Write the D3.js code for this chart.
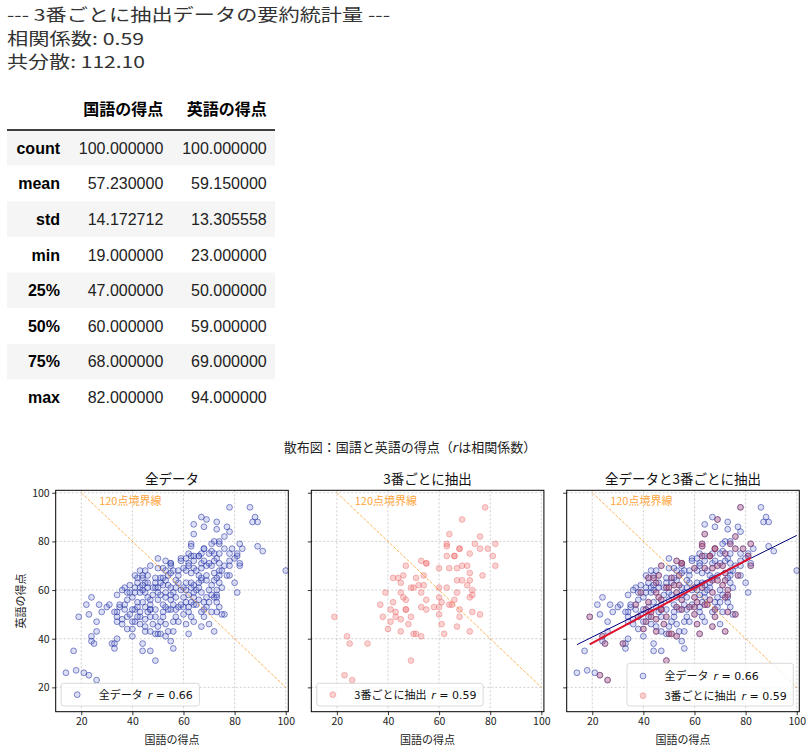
<!DOCTYPE html>
<html>
<head>
  <meta charset="utf-8" />
  <script src="https://d3js.org/d3.v7.min.js"></script>
  <style>
    body {
      margin: 0;
      background: #fff;
    }
    svg {
      display: block;
      font-family: "Noto Sans CJK JP", sans-serif;
    }
    .tbl {
      font-family: "Liberation Sans", "Noto Sans CJK JP", sans-serif;
      font-size: 16px;
    }
    .math {
      font-family: "DejaVu Sans", sans-serif;
    }
    .pre {
      white-space: pre;
    }
  </style>
</head>
<body>
  <script>
    // every third row
    var sampleKokugo = [78, 69, 64, 76, 63, 63, 68, 74, 76, 79, 82, 72, 66, 63, 81, 82, 53, 55, 47, 60,
      64, 67, 69, 71, 72, 77, 67, 69, 72, 71, 73, 73, 72, 67, 63, 60, 60, 64, 65, 66,
      68, 68, 67, 72, 73, 76, 60, 61, 62, 58, 55, 53, 55, 53, 52, 54, 51, 54, 50, 49,
      47, 45, 46, 47, 45, 46, 44, 42, 39, 37, 41, 42, 43, 43, 41, 38, 40, 45, 48, 49,
      45, 50, 51, 53, 49, 32, 25, 24, 19, 23, 26, 60, 61, 55, 68, 66, 47];
    var sampleEigo = [94, 89, 83, 82, 79, 78, 77, 79, 77, 77, 79, 75, 74, 74, 74, 70, 72, 71, 70, 69,
      69, 69, 70, 70, 67, 66, 64, 64, 64, 62, 60, 58, 57, 59, 61, 61, 57, 54, 54, 56,
      52, 49, 45, 43, 51, 50, 50, 46, 42, 53, 52, 53, 56, 59, 62, 62, 65, 66, 61, 61,
      56, 59, 57, 52, 63, 66, 65, 65, 59, 54, 52, 55, 51, 49, 47, 49, 44, 48, 46, 49,
      43, 42, 42, 41, 31, 38, 38, 41, 49, 25, 23, 53, 55, 71, 77, 74, 52];

    // the remaining rows
    var otherKokugo = [86, 88, 87, 89, 67, 73, 64, 68, 77, 78, 73, 72, 71, 74, 83, 89, 91, 81, 80, 78,
      78, 74, 73, 71, 70, 67, 62, 64, 61, 64, 62, 70, 67, 68, 72, 74, 76, 78, 78, 80,
      81, 100, 82, 50, 55, 45, 43, 41, 50, 52, 53, 55, 56, 59, 59, 61, 62, 63, 65, 66,
      67, 58, 58, 69, 66, 64, 63, 61, 74, 75, 74, 73, 74, 75, 73, 73, 70, 69, 68, 69,
      67, 64, 63, 62, 62, 64, 59, 57, 56, 55, 53, 52, 51, 49, 49, 48, 46, 44, 43, 43,
      41, 40, 38, 35, 34, 41, 35, 34, 34, 34, 36, 36, 38, 40, 40, 42, 44, 45, 46, 47,
      50, 47, 45, 50, 52, 54, 56, 57, 59, 52, 53, 54, 49, 56, 57, 56, 55, 56, 44, 47,
      33, 33, 34, 30, 28, 27, 24, 22, 23, 26, 26, 24, 17, 14, 18, 21, 37, 36, 38, 39,
      42, 44, 51, 53, 57, 58, 48, 50, 55, 57, 46, 44, 61, 62, 65, 66, 64, 70, 71, 70,
      74, 71, 63, 58, 52, 49, 47, 42, 39, 37, 40, 43, 51, 75, 44, 31, 33];
    var otherEigo = [94, 90, 88, 88, 90, 88, 87, 86, 86, 84, 85, 80, 79, 80, 77, 78, 76, 75, 73, 75,
      72, 75, 73, 76, 75, 75, 75, 74, 73, 72, 71, 71, 71, 72, 72, 71, 70, 70, 66, 63,
      59, 68, 71, 73, 70, 68, 68, 66, 69, 69, 68, 67, 68, 73, 72, 68, 70, 67, 68, 66,
      65, 68, 66, 66, 63, 62, 63, 63, 68, 68, 66, 65, 63, 61, 57, 55, 46, 57, 55, 53,
      51, 57, 55, 53, 51, 47, 60, 61, 59, 61, 64, 65, 63, 63, 65, 61, 61, 60, 59, 61,
      59, 57, 56, 53, 58, 61, 54, 51, 49, 47, 48, 46, 44, 41, 52, 53, 55, 53, 51, 49,
      45, 43, 45, 56, 54, 52, 54, 52, 54, 49, 46, 43, 42, 47, 49, 43, 39, 36, 35, 35,
      38, 36, 40, 53, 51, 54, 57, 54, 50, 47, 43, 39, 35, 26, 27, 26, 61, 60, 59, 62,
      63, 66, 58, 57, 57, 63, 58, 59, 58, 64, 63, 62, 60, 58, 60, 61, 59, 60, 58, 55,
      53, 51, 49, 47, 51, 52, 54, 49, 50, 52, 47, 46, 47, 50, 38, 54, 51];

    var allKokugo = sampleKokugo.concat(otherKokugo);
    var allEigo = sampleEigo.concat(otherEigo);

    var summaryLines = ["--- 3番ごとに抽出データの要約統計量 ---", "相関係数: 0.59", "共分散: 112.10"];
    var tableColumns = ["国語の得点", "英語の得点"];
    var statNames = ["count", "mean", "std", "min", "25%", "50%", "75%", "max"];
    var statKokugo = ["100.000000", "57.230000", "14.172712", "19.000000", "47.000000", "60.000000", "68.000000", "82.000000"];
    var statEigo = ["100.000000", "59.150000", "13.305558", "23.000000", "50.000000", "59.000000", "69.000000", "94.000000"];

    var suptitle = ["散布図：国語と英語の得点（", "r", "は相関係数）"];
    var panelTitles = ["全データ", "3番ごとに抽出", "全データと3番ごとに抽出"];
    var legendAll = ["全データ", "0.66"];
    var legendSample = ["3番ごとに抽出", "0.59"];
    var axisTicks = [20, 40, 60, 80, 100];
    var boundaryTotal = 120;
    var boundaryLabel = "120点境界線";
    var xLabel = "国語の得点";
    var yLabel = "英語の得点";

    var svg = d3.select("body")
      .append("svg")
      .attr("width", 810)
      .attr("height", 751);

    // ---- printed output ----
    var lineLengths = [383, 137, 138];
    svg.selectAll()
      .data(summaryLines)
      .enter()
      .append("text")
      .attr("x", 7)
      .attr("y", function(d, i) { return 15 + i * 23.7; })
      .attr("dy", "0.36em")
      .attr("textLength", function(d, i) { return lineLengths[i]; })
      .attr("lengthAdjust", "spacingAndGlyphs")
      .style("font-size", "16.5px")
      .style("fill", "#333")
      .text(function(d) { return d; });

    // ---- describe() table ----
    var rowH = 35.65, tableTop = 130;
    var table = svg.append("g").attr("class", "tbl");
    table.selectAll()
      .data(statNames)
      .enter()
      .append("rect")
      .attr("x", 7)
      .attr("y", function(d, i) { return tableTop + i * rowH; })
      .attr("width", 268)
      .attr("height", rowH)
      .attr("fill", function(d, i) { return i % 2 == 0 ? "#f5f5f5" : "#fff"; });
    table.append("line")
      .attr("x1", 7).attr("x2", 275)
      .attr("y1", tableTop).attr("y2", tableTop)
      .attr("stroke", "#000")
      .attr("stroke-width", 1.3);
    var colRight = [163.3, 266.7];
    table.selectAll()
      .data(tableColumns)
      .enter()
      .append("text")
      .attr("x", function(d, i) { return colRight[i]; })
      .attr("y", 109.5)
      .attr("dy", "0.36em")
      .attr("text-anchor", "end")
      .style("font-family", "'Noto Sans CJK JP', sans-serif")
      .style("font-weight", "bold")
      .text(function(d) { return d; });
    var rows = table.selectAll()
      .data(statNames)
      .enter()
      .append("g")
      .attr("transform", function(d, i) { return `translate(0 ${tableTop + i * rowH + rowH / 2})`; });
    rows.append("text")
      .attr("x", 60)
      .attr("dy", "0.36em")
      .attr("text-anchor", "end")
      .style("font-weight", "bold")
      .text(function(d) { return d; });
    rows.append("text")
      .attr("x", colRight[0])
      .attr("dy", "0.36em")
      .attr("text-anchor", "end")
      .style("fill", "#222")
      .text(function(d, i) { return statKokugo[i]; });
    rows.append("text")
      .attr("x", colRight[1])
      .attr("dy", "0.36em")
      .attr("text-anchor", "end")
      .style("fill", "#222")
      .text(function(d, i) { return statEigo[i]; });

    // ---- scatter figure ----
    var st = svg.append("text")
      .attr("x", 410)
      .attr("y", 447)
      .attr("dy", "0.36em")
      .attr("text-anchor", "middle")
      .style("font-size", "13px")
      .style("fill", "#222");
    st.append("tspan").text(suptitle[0]);
    st.append("tspan").attr("class", "math").style("font-style", "italic").text(suptitle[1]);
    st.append("tspan").text(suptitle[2]);

    var panelLeft = [55.7, 311.3, 566.7];
    var panelTop = 490.3, panelW = 232.6, panelH = 221.4;
    var x = d3.scaleLinear().domain([10, 101]).range([0, panelW]);
    var y = d3.scaleLinear().domain([10, 101]).range([panelH, 0]);

    var blueStyle = ["rgba(110,125,215,0.25)", "rgba(35,50,160,0.55)"];
    var redStyle = ["rgba(240,115,115,0.33)", "rgba(235,100,100,0.4)"];
    var redOverStyle = ["rgba(200,90,110,0.3)", "rgba(160,50,80,0.4)"];

    function fit(xs, ys) {
      var mx = d3.mean(xs), my = d3.mean(ys);
      var sxy = d3.sum(xs, function(v, i) { return (v - mx) * (ys[i] - my); });
      var sxx = d3.sum(xs, function(v) { return (v - mx) * (v - mx); });
      var b = sxy / sxx;
      var x0 = d3.min(xs), x1 = d3.max(xs);
      return [[x0, my + b * (x0 - mx)], [x1, my + b * (x1 - mx)]];
    }

    function drawPoints(g, xs, ys, style) {
      g.selectAll()
        .data(xs)
        .enter()
        .append("circle")
        .attr("cx", function(d) { return x(d); })
        .attr("cy", function(d, i) { return y(ys[i]); })
        .attr("r", 2.9)
        .attr("fill", style[0])
        .attr("stroke", style[1])
        .attr("stroke-width", 1);
    }

    function legendText(t, label, r) {
      t.append("tspan").text(label + "  ");
      t.append("tspan").attr("class", "math").style("font-style", "italic").text("r");
      t.append("tspan").attr("class", "math").text(" = " + r);
    }

    var line = d3.line()
      .x(function(d) { return x(d[0]); })
      .y(function(d) { return y(d[1]); });

    panelLeft.forEach(function(left, p) {
      var g = svg.append("g").attr("transform", `translate(${left} ${panelTop})`);

      g.append("clipPath").attr("id", "clip" + p)
        .append("rect").attr("width", panelW).attr("height", panelH);

      // grid
      g.selectAll()
        .data(axisTicks)
        .enter()
        .append("line")
        .attr("x1", function(d) { return x(d); })
        .attr("x2", function(d) { return x(d); })
        .attr("y1", 0).attr("y2", panelH)
        .attr("stroke", "#b0b0b0").attr("stroke-width", 0.6).attr("stroke-dasharray", "2,2");
      g.selectAll()
        .data(axisTicks)
        .enter()
        .append("line")
        .attr("y1", function(d) { return y(d); })
        .attr("y2", function(d) { return y(d); })
        .attr("x1", 0).attr("x2", panelW)
        .attr("stroke", "#b0b0b0").attr("stroke-width", 0.6).attr("stroke-dasharray", "2,2");

      var plot = g.append("g").attr("clip-path", `url(#clip${p})`);
      if (p != 1) drawPoints(plot, allKokugo, allEigo, blueStyle);
      if (p == 1) drawPoints(plot, sampleKokugo, sampleEigo, redStyle);
      if (p == 2) drawPoints(plot, sampleKokugo, sampleEigo, redOverStyle);

      // x + y = 120 boundary
      plot.append("path")
        .attr("d", line([[boundaryTotal - 100, 100], [100, boundaryTotal - 100]]))
        .attr("fill", "none")
        .attr("stroke", "darkorange")
        .attr("stroke-opacity", 0.75)
        .attr("stroke-width", 0.9)
        .attr("stroke-dasharray", "3,1.6");
      plot.append("text")
        .attr("x", x(27))
        .attr("y", y(96.5))
        .attr("dy", "0.36em")
        .style("font-size", "11px")
        .style("fill", "darkorange")
        .style("fill-opacity", 0.8)
        .text(boundaryLabel);

      if (p == 2) {
        plot.append("path")
          .attr("d", line(fit(allKokugo, allEigo)))
          .attr("fill", "none")
          .attr("stroke", "navy")
          .attr("stroke-width", 1);
        plot.append("path")
          .attr("d", line(fit(sampleKokugo, sampleEigo)))
          .attr("fill", "none")
          .attr("stroke", "#e0102a")
          .attr("stroke-width", 2);
      }

      // axes
      var xAxis = g.append("g")
        .attr("transform", `translate(0 ${panelH})`)
        .call(d3.axisBottom(x).tickValues(axisTicks).tickSize(3.5).tickPadding(2.5));
      var yAxis = g.append("g")
        .call(d3.axisLeft(y).tickValues(axisTicks).tickSize(3.5).tickPadding(2.5));
      [xAxis, yAxis].forEach(function(a) {
        a.select(".domain").remove();
        a.selectAll("line").attr("stroke", "#000").attr("stroke-width", 0.8);
        a.selectAll("text")
          .style("font-family", "'Noto Sans CJK JP', sans-serif")
          .style("font-size", "10.5px")
          .attr("fill", "#222");
      });
      if (p > 0) yAxis.selectAll("text").remove();

      g.append("rect")
        .attr("width", panelW)
        .attr("height", panelH)
        .attr("fill", "none")
        .attr("stroke", "#000")
        .attr("stroke-width", 1);

      g.append("text")
        .attr("x", panelW / 2)
        .attr("y", -11.6)
        .attr("dy", "0.36em")
        .attr("text-anchor", "middle")
        .style("font-size", "13.5px")
        .style("fill", "#111")
        .text(panelTitles[p]);

      g.append("text")
        .attr("x", panelW / 2)
        .attr("y", panelH + 28.5)
        .attr("dy", "0.36em")
        .attr("text-anchor", "middle")
        .style("font-size", "11px")
        .style("fill", "#222")
        .text(xLabel);

      if (p == 0) {
        g.append("text")
          .attr("transform", `translate(${-35} ${panelH / 2}) rotate(-90)`)
          .attr("dy", "0.36em")
          .attr("text-anchor", "middle")
          .style("font-size", "11px")
          .style("fill", "#222")
          .text(yLabel);
      }

      // legend
      var entries = p == 0 ? [legendAll] : p == 1 ? [legendSample] : [legendAll, legendSample];
      var styles = p == 0 ? [blueStyle] : p == 1 ? [redStyle] : [blueStyle, redStyle];
      var lg = g.append("g");
      var box = lg.append("rect")
        .attr("fill", "rgba(255,255,255,0.8)")
        .attr("stroke", "#d0d0d0")
        .attr("stroke-width", 0.8)
        .attr("rx", 2.5);
      var rowStep = 19.7;
      var boxH = 22.7 + (entries.length - 1) * 20;
      var widest = 0;
      var texts = [];
      entries.forEach(function(e, k) {
        var cy = panelH - 5.7 - boxH + 11.35 + k * rowStep + (entries.length > 1 ? 1.3 : 0);
        lg.append("circle")
          .attr("class", "mk")
          .attr("cy", cy)
          .attr("r", 2.9)
          .attr("fill", styles[k][0])
          .attr("stroke", styles[k][1]);
        var t = lg.append("text")
          .attr("class", "pre")
          .attr("y", cy)
          .attr("dy", "0.36em")
          .style("font-size", "11px")
          .style("fill", "#111");
        legendText(t, e[0], e[1]);
        texts.push(t);
        widest = Math.max(widest, t.node().getComputedTextLength());
      });
      var boxW = 38 + widest + 6;
      var bx = p == 2 ? panelW - 6 - boxW : 5.5;
      box.attr("x", bx).attr("y", panelH - 5.7 - boxH).attr("width", boxW).attr("height", boxH);
      lg.selectAll(".mk").attr("cx", bx + 16);
      texts.forEach(function(t) { t.attr("x", bx + 37.5); });
    });
  </script>
</body>
</html>
